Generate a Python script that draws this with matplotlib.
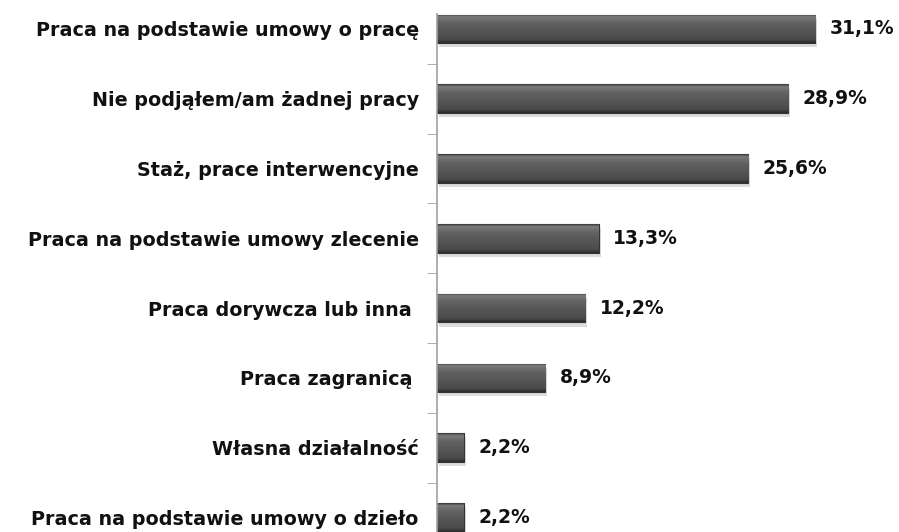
import matplotlib
matplotlib.use("Agg")
import matplotlib.pyplot as plt
import matplotlib.patheffects as pe
import numpy as np
from matplotlib.colors import LinearSegmentedColormap

categories = [
    "Praca na podstawie umowy o pracę",
    "Nie podjąłem/am żadnej pracy",
    "Staż, prace interwencyjne",
    "Praca na podstawie umowy zlecenie",
    "Praca dorywcza lub inna ",
    "Praca zagranicą ",
    "Własna działalność",
    "Praca na podstawie umowy o dzieło",
]
values = [31.1, 28.9, 25.6, 13.3, 12.2, 8.9, 2.2, 2.2]
value_labels = ["31,1%", "28,9%", "25,6%", "13,3%", "12,2%", "8,9%", "2,2%", "2,2%"]

plt.rcParams['font.family'] = ['DejaVu Sans']

fig = plt.figure(figsize=(8.99, 5.32), dpi=100)
ax = fig.add_axes([0.486, -0.0385, 0.514, 1.0496])

bar_h = 0.41
y = list(range(len(categories)))
bars = ax.barh(y, values, height=bar_h, color='#555555', edgecolor='#333333', linewidth=0.8, zorder=2)

grad_cmap = LinearSegmentedColormap.from_list(
    'bevel', [(0.0, '#3a3a3a'), (0.08, '#7a7a7a'), (0.3, '#626262'),
              (0.6, '#555555'), (0.88, '#4a4a4a'), (1.0, '#2c2c2c')])
grad = np.linspace(0, 1, 64).reshape(-1, 1)

for b in bars:
    b.set_path_effects([pe.SimplePatchShadow(offset=(1.5, -3), alpha=0.25, shadow_rgbFace='#777777'), pe.Normal()])
    x0, yb, w, h = b.get_x(), b.get_y(), b.get_width(), b.get_height()
    im = ax.imshow(grad, cmap=grad_cmap, aspect='auto', origin='upper',
                   extent=(x0, x0 + w, yb + h, yb), zorder=3, interpolation='bilinear')
    im.set_clip_path(b)

for yi, v, lab in zip(y, values, value_labels):
    ax.text(v + 1.2, yi, lab, va='center', ha='left', fontsize=13.5, fontweight='bold', color='#111111')

ax.set_xlim(0, 38.0)
ax.set_ylim(7.5, -0.5)
ax.set_yticks(y)
ax.set_yticklabels(categories, fontsize=13.8, fontweight='bold', color='#111111')
ax.tick_params(axis='y', which='major', length=0, pad=13)
ax.set_yticks([i + 0.5 for i in range(7)], minor=True)
ax.tick_params(axis='y', which='minor', length=7, color='#a0a0a0', direction='out')
ax.set_xticks([])
for s in ['top', 'right', 'bottom']:
    ax.spines[s].set_visible(False)
ax.spines['left'].set_color('#a0a0a0')
ax.spines['left'].set_linewidth(1.2)
ax.spines['left'].set_zorder(4)
ax.spines['left'].set_bounds(-0.22, 7.5)

fig.savefig('out.png', dpi=100)
